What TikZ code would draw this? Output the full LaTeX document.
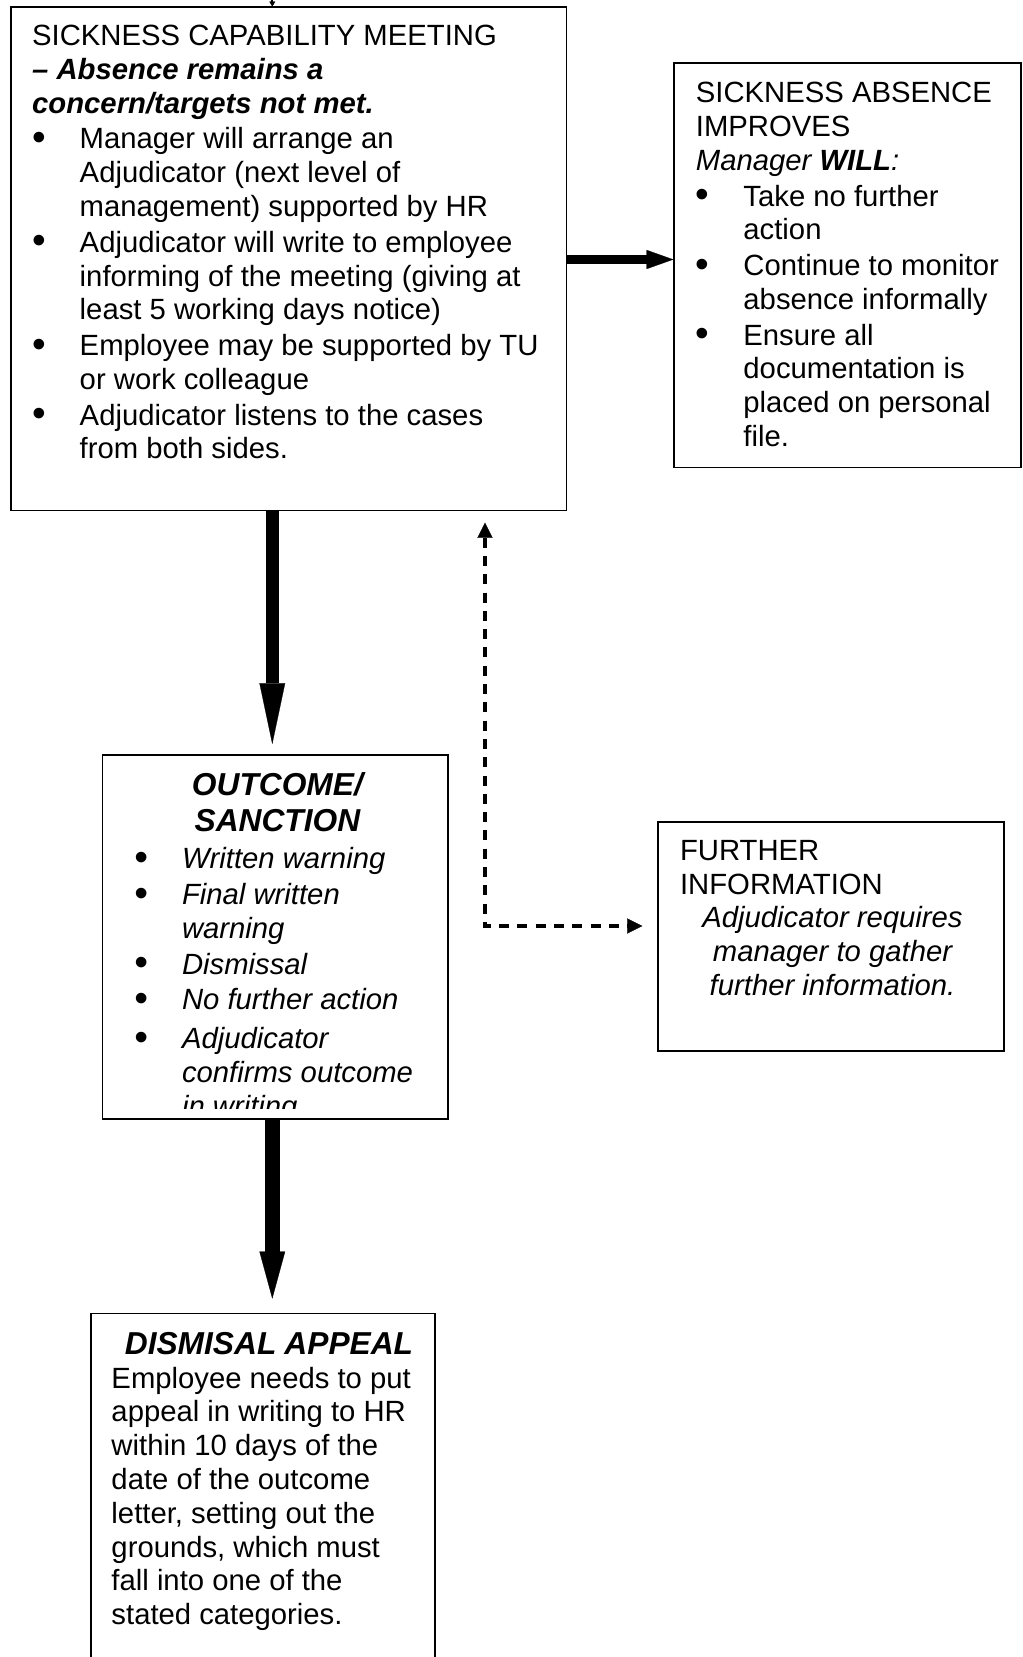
\documentclass[tikz,border=0pt]{standalone}
\usepackage{fontspec}
\setmainfont{Liberation Sans}
\usetikzlibrary{arrows.meta,fit}
\newcommand\bul{\raisebox{-0.7pt}{\fontsize{16}{16}\selectfont •}}
\newcommand\bfirst{\hangindent=19.5pt\hangafter=1\noindent\makebox[19.5pt][l]{\bul}}
\newcommand\bitem{\par\bfirst}
\newcommand\bodyfont{\fontsize{12}{13.87}\selectfont\setlength\parskip{0.77pt}}
\tikzset{
  box/.style={draw, line width=0.75pt, inner sep=0pt},
  txt/.style={anchor=base west, inner sep=0pt, align=left, execute at begin node=\bodyfont},
  head/.style={anchor=base, inner sep=0pt, align=center, text width=150pt,
    execute at begin node={\fontsize{13}{14.76}\selectfont\bfseries\itshape}},
  bigarrow/.style={line width=5.1pt, -{Triangle[length=25pt,width=10.5pt,line width=0.1pt]}},
  bigarrowb/.style={line width=6pt, -{Triangle[length=19.3pt,width=10.5pt,line width=0.1pt]}},
  sidearrow/.style={line width=4pt, -{Triangle[length=11pt,width=7.8pt,line width=0.1pt]}},
  dasharrow/.style={line width=1.35pt, dash pattern=on 4.1pt off 3.4pt,
    {Triangle[length=6.2pt,width=6.2pt,line width=0.1pt]}-{Triangle[length=6.2pt,width=6.2pt,line width=0.1pt]}},
  stub/.style={line width=0.8pt, -{Triangle[length=2pt,width=2.4pt,line width=0.1pt]}}
}
\begin{document}
\begin{tikzpicture}[x=0.41pt, y=-0.41pt]
\useasboundingbox (0,0) rectangle (1022,1657);
\clip (0,0) rectangle (1022,1657);

% boxes
\node[box, fit={(10.6,7.4) (566.5,510.5)}] (b1) {};
\node[box, fit={(674.3,63) (1021,467.5)}] (b2) {};
\node[box, fit={(102.5,754.6) (448.1,1119.3)}] (b3) {};
\node[box, fit={(658.4,822.3) (1004,1050.6)}] (b4) {};
\node[box, fit={(90.9,1313.5) (435.4,1700)}] (b5) {};

% texts
\node[txt, text width=215pt] (t1) at (31.7,45.5) {SICKNESS CAPABILITY MEETING\newline
\textbf{\textit{– Absence remains a}}\newline
\textbf{\textit{concern/targets not met.}}
\bitem Manager will arrange an\newline Adjudicator (next level of\newline management) supported by HR
\bitem Adjudicator will write to employee\newline informing of the meeting (giving at\newline least 5 working days notice)
\bitem Employee may be supported by TU\newline or work colleague
\bitem Adjudicator listens to the cases\newline from both sides.\par};

\node[txt, text width=130pt] (t2) at (695.4,102.7) {SICKNESS ABSENCE\newline IMPROVES\newline
\textit{Manager \textbf{WILL}:}
\bitem Take no further\newline action
\bitem Continue to monitor\newline absence informally
\bitem Ensure all\newline documentation is\newline placed on personal\newline file.\par};

\node[head] (h3) at (277.4,795.5) {OUTCOME/\\SANCTION};
\begin{scope}
\clip (102.5,754.6) rectangle (448.1,1108);
\node[txt, text width=120pt] (t3) at (134,868.8) {\itshape\bfirst Written warning
\bitem Final written\newline warning
\bitem Dismissal
\bitem No further action
\par\vspace{1.2pt}\bitem Adjudicator\newline confirms outcome\newline in writing\par};
\end{scope}

\node[txt, text width=125pt] (t4) at (679.6,860.3) {FURTHER\newline INFORMATION\par
{\parskip=0pt\centering\itshape Adjudicator requires\\ manager to gather\\ further information.\par}};

\node[head] (h5) at (269,1354.7) {DISMISAL APPEAL};
\node[txt, text width=128pt] (t5) at (111,1388) {Employee needs to put\newline appeal in writing to HR\newline within 10 days of the\newline date of the outcome\newline letter, setting out the\newline grounds, which must\newline fall into one of the\newline stated categories.\par};

% connectors
\coordinate (ax) at (272.3,0);
\coordinate (ay) at (0,259.5);
\coordinate (dc) at (485,926);
\draw[stub] (ax) -- (b1.north -| ax);
\draw[sidearrow] (b1.east |- ay) -- (b2.west |- ay);
\draw[bigarrow, shorten >=3.9pt] (b1.south -| ax) -- (b3.north -| ax);
\draw[bigarrowb, shorten >=5.7pt] (b3.south -| ax) -- (b5.north -| ax);
\draw[dasharrow, shorten <=4.6pt, shorten >=6.2pt] (b1.south -| dc) -- (dc) -- (b4.west |- dc);
\end{tikzpicture}
\end{document}
